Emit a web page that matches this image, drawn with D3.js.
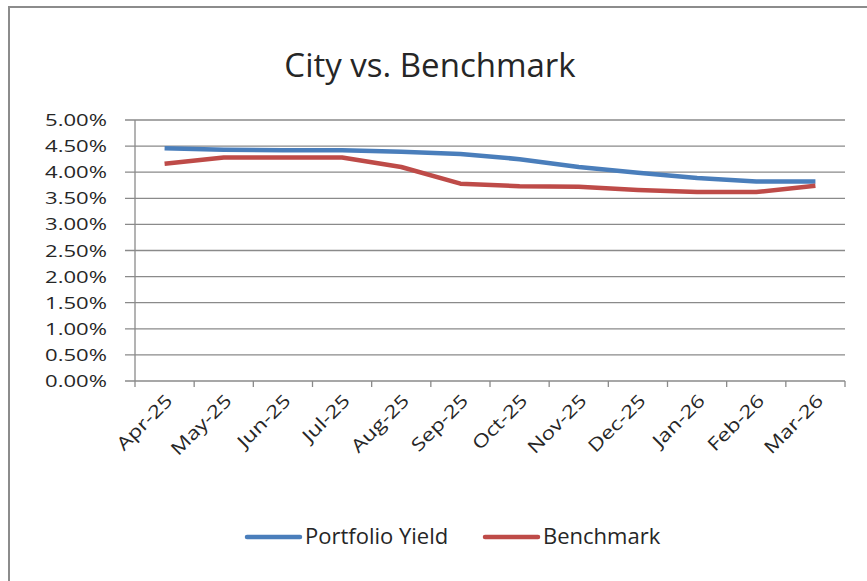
<!DOCTYPE html>
<meta charset="utf-8">
<style>
    body { margin: 0; background: #fff; }
    text { font-family: "Open Sans", sans-serif; fill: #262626; }
    .grid line { stroke: #8a8a8a; stroke-width: 1.3px; }
</style>
<script src="https://d3js.org/d3.v7.min.js"></script>
<svg width="867" height="581"></svg>
<script>

    var months = ["Apr-25", "May-25", "Jun-25", "Jul-25", "Aug-25", "Sep-25",
                  "Oct-25", "Nov-25", "Dec-25", "Jan-26", "Feb-26", "Mar-26"];
    var portfolioYield = [4.46, 4.43, 4.42, 4.42, 4.39, 4.35, 4.25, 4.10, 3.99, 3.89, 3.82, 3.82];
    var benchmark = [4.16, 4.28, 4.28, 4.28, 4.10, 3.78, 3.73, 3.72, 3.66, 3.62, 3.62, 3.74];
    var yTicks = [0, 0.5, 1, 1.5, 2, 2.5, 3, 3.5, 4, 4.5, 5];

    var series = [
        {name: "Portfolio Yield", values: portfolioYield, color: "#4a7ebb"},
        {name: "Benchmark", values: benchmark, color: "#be4b48"}
    ];

    var svg = d3.select("svg");

    // chart border
    svg.append("rect")
        .attr("x", 9).attr("y", 7)
        .attr("width", 880).attr("height", 600)
        .attr("fill", "none")
        .attr("stroke", "#8c8c8c")
        .attr("stroke-width", 2);

    var plotLeft = 135, plotRight = 845, plotTop = 120, plotBottom = 381;

    var x = d3.scaleBand().domain(months).range([plotLeft, plotRight]);
    var y = d3.scaleLinear().domain([0, 5]).range([plotBottom, plotTop]);

    svg.append("text")
        .attr("x", 430).attr("y", 77)
        .attr("text-anchor", "middle")
        .attr("font-size", 33)
        .text("City vs. Benchmark");

    // horizontal gridlines
    svg.append("g").attr("class", "grid")
        .selectAll("line")
        .data(yTicks)
        .enter().append("line")
        .attr("x1", plotLeft - 10).attr("x2", plotRight)
        .attr("y1", function (d) { return y(d); })
        .attr("y2", function (d) { return y(d); });

    // y axis line
    svg.append("line")
        .attr("x1", plotLeft).attr("x2", plotLeft)
        .attr("y1", plotTop).attr("y2", plotBottom)
        .attr("stroke", "#8a8a8a").attr("stroke-width", 1.3);

    // x ticks between categories
    var bounds = months.map(function (m) { return x(m); }).concat([plotRight]);
    svg.append("g").attr("class", "grid")
        .selectAll("line")
        .data(bounds)
        .enter().append("line")
        .attr("x1", function (d) { return d; })
        .attr("x2", function (d) { return d; })
        .attr("y1", plotBottom).attr("y2", plotBottom + 6);

    svg.append("g")
        .selectAll("text")
        .data(yTicks)
        .enter().append("text")
        .attr("text-anchor", "end")
        .attr("font-size", 17)
        .attr("transform", function (d) {
            return "translate(107," + (y(d) + 6) + ") scale(1.3,1)";
        })
        .text(function (d) { return d.toFixed(2) + "%"; });

    svg.append("g")
        .selectAll("text")
        .data(months)
        .enter().append("text")
        .attr("text-anchor", "end")
        .attr("font-size", 18)
        .attr("transform", function (d) {
            var cx = x(d) + x.bandwidth() / 2;
            return "translate(" + (cx + 9) + "," + (plotBottom + 21) + ") rotate(-45) scale(1.25,1)";
        })
        .text(function (d) { return d; });

    var line = d3.line()
        .x(function (d, i) { return x(months[i]) + x.bandwidth() / 2; })
        .y(function (d) { return y(d); });

    svg.append("g")
        .selectAll("path")
        .data(series)
        .enter().append("path")
        .attr("fill", "none")
        .attr("stroke", function (d) { return d.color; })
        .attr("stroke-width", 4.5)
        .attr("stroke-linejoin", "round")
        .attr("d", function (d) { return line(d.values); });

    // legend
    var legendX = [247, 485];
    var legend = svg.append("g")
        .selectAll("g")
        .data(series)
        .enter().append("g")
        .attr("transform", function (d, i) { return "translate(" + legendX[i] + ",537)"; });

    legend.append("line")
        .attr("x1", 0).attr("x2", 53)
        .attr("stroke", function (d) { return d.color; })
        .attr("stroke-width", 4.5)
        .attr("stroke-linecap", "round");

    legend.append("text")
        .attr("x", 58).attr("y", 7)
        .attr("font-size", 22)
        .text(function (d) { return d.name; });

</script>
